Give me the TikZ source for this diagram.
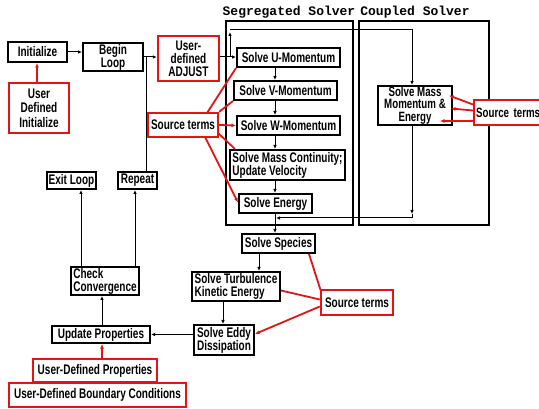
\documentclass[tikz,border=0pt]{standalone}
\usepackage{fontspec}
\usetikzlibrary{arrows.meta,calc}
\newfontfamily\boxfont[FakeStretch=0.72]{Liberation Sans}
\newfontfamily\ttlfont{Liberation Mono}
\definecolor{rred}{RGB}{228,20,20}
\begin{document}
\begin{tikzpicture}[x=1pt,y=-1pt,
  box/.style={draw=black, fill=white, line width=2pt, inner sep=0.5pt, align=center,
    font=\boxfont\bfseries\fontsize{13.9}{13}\selectfont},
  rbox/.style={box, draw=rred, line width=2.4pt},
  solver/.style={draw=black, line width=2.4pt, inner sep=0pt},
  ttl/.style={inner sep=0pt, anchor=base, font=\ttlfont\bfseries\fontsize{13}{14}\selectfont},
  con/.style={draw=black, line width=1pt},
  arr/.style={con, -{Latex[length=4pt,width=3.5pt]}},
  rcon/.style={draw=rred, line width=1.8pt},
  rarr/.style={rcon, -{Latex[length=4.5pt,width=4pt]}},
]
\useasboundingbox (0,0) rectangle (539,409);

% solver frames and titles
\node[solver, minimum width=127, minimum height=204] (seg) at (289.5,123) {};
\node[solver, minimum width=130, minimum height=204] (cpl) at (424,123) {};
\node[ttl] (segT) at (289,16) {Segregated Solver};
\node[ttl] (cplT) at (415,16) {Coupled Solver};

% nodes
\node[box, minimum width=59, minimum height=20] (init) at (37.5,52) {Initialize};
\node[rbox, minimum width=60, minimum height=50, font=\boxfont\bfseries\fontsize{13.9}{14.5}\selectfont] (udi) at (39,108) {User\\Defined\\Initialize};
\node[box, minimum width=60, minimum height=28] (begin) at (113,57) {Begin\\Loop};
\node[rbox, minimum width=61, minimum height=45, font=\boxfont\bfseries\fontsize{13.9}{13}\selectfont] (adjust) at (188.5,58.5) {User-\\defined\\ADJUST};
\node[rbox, minimum width=70, minimum height=24] (srcL) at (183,125) {Source terms};

\node[box, minimum width=103, minimum height=19] (U) at (288.5,57.5) {Solve U-Momentum};
\node[box, minimum width=103, minimum height=19] (V) at (285.5,90.5) {Solve V-Momentum};
\node[box, minimum width=103, minimum height=19] (W) at (288.5,125.5) {Solve W-Momentum};
\node[box, minimum width=115, minimum height=30, align=left] (mass) at (287.5,165) {Solve Mass Continuity;\\Update Velocity};
\node[box, minimum width=73, minimum height=19] (energy) at (275.5,203.5) {Solve Energy};

\node[box, minimum width=74, minimum height=39, font=\boxfont\bfseries\fontsize{13.5}{12.5}\selectfont] (smme) at (415,105.5) {Solve Mass\\Momentum \&\\Energy};
\node[rbox, minimum width=72, minimum height=25, anchor=west, inner xsep=2pt, align=left, text width=68, font=\boxfont\bfseries\fontsize{13.5}{12}\selectfont] (srcR) at (473,112.5) {Source terms};

\node[box, minimum width=49, minimum height=17] (exit) at (71.5,180.5) {Exit Loop};
\node[box, minimum width=39, minimum height=17] (repeat) at (137.5,180.5) {Repeat};
\node[box, minimum width=68, minimum height=28, align=left] (check) at (105,281) {Check\\Convergence};
\node[box, minimum width=98, minimum height=17] (update) at (101,334.5) {Update Properties};
\node[rbox, minimum width=124, minimum height=23] (udp) at (95,370.5) {User-Defined Properties};
\node[rbox, minimum width=177, minimum height=24] (udbc) at (97.5,395) {User-Defined Boundary Conditions};

\node[box, minimum width=73, minimum height=19] (species) at (278.5,243.5) {Solve Species};
\node[box, minimum width=88, minimum height=29, align=left] (turb) at (236,286.5) {Solve Turbulence\\Kinetic Energy};
\node[box, minimum width=60, minimum height=30, align=left] (eddy) at (224,340) {Solve Eddy\\Dissipation};
\node[rbox, minimum width=72, minimum height=25] (srcB) at (357,302.5) {Source terms};

% coordinates
\coordinate (j1) at (146,57);
\coordinate (j2) at (230,57);
\coordinate (t1) at (230,30);
\coordinate (t2) at (412,30);
\coordinate (b1) at (412,214);
\coordinate (b2) at (412,218);
\coordinate (b3) at (276,218);

% black connectors
\draw[arr] (init.east) -- (init.east -| begin.west);
\draw[arr] (begin.east |- j1) -- (j1 -| adjust.west);
\draw[con] (repeat.north -| j1) -- (j1);
\draw[arr] (adjust.east |- j2) -- (j2 -| U.west);
\draw[arr] (j2) -- ($(t1)+(0,2)$);
\draw[arr] (t1) -- (t2) -- (smme.north -| t2);
\draw[arr] (U.south -| 275,0) -- (V.north -| 275,0);
\draw[arr] (V.south -| 275,0) -- (W.north -| 275,0);
\draw[arr] (W.south -| 275,0) -- (mass.north -| 275,0);
\draw[arr] (mass.south -| 275,0) -- (energy.north -| 275,0);
\draw[arr] (energy.south -| 275,0) -- (species.north -| 275,0);
\draw[arr] (smme.south -| b1) -- (b1);
\draw[arr] (b1) -- (b2) -- (b3);
\draw[arr] (species.south -| 259,0) -- (turb.north -| 259,0);
\draw[arr] (turb.south -| 223,0) -- (eddy.north -| 223,0);
\draw[arr] (eddy.west |- update.east) -- (update.east);
\draw[arr] (update.north -| 102,0) -- (check.south -| 102,0);
\draw[arr] (check.north -| 81,0) -- (exit.south -| 81,0);
\draw[arr] (check.north -| 135,0) -- (repeat.south -| 135,0);

% red connectors
\draw[rarr] (udi.north -| 37,0) -- (init.south -| 37,0);
\draw[rarr] (udp.north -| 102,0) -- (update.south -| 102,0);
\draw[rcon] (207,113) -- (U.south west);
\draw[rcon] (srcL.north east) -- (V.south west);
\draw[rarr] (srcL.east) -- (W.west);
\draw[rcon] (218,133) -- ($(mass.north west)+(6,0)$);
\draw[rarr] (205,137) -- ($(energy.west)+(0,-1)$);
\draw[rarr] ($(srcR.west)+(0,-8)$) -- ($(smme.east)+(-4,-10)$);
\draw[rarr] ($(srcR.west)+(0,-2)$) -- ($(smme.east)+(-2,3)$);
\draw[rarr] ($(srcR.west)+(0,8.5)$) -- ($(smme.east)+(-13,15.5)$);
\draw[rcon] ($(srcB.north west)+(1,2)$) -- ($(species.south east)+(-7,0)$);
\draw[rcon] ($(srcB.west)+(0,-3)$) -- ($(turb.east)+(0,4)$);
\draw[rarr] ($(srcB.west)+(0,4)$) -- ($(eddy.east)+(0,-6)$);
\end{tikzpicture}
\end{document}
